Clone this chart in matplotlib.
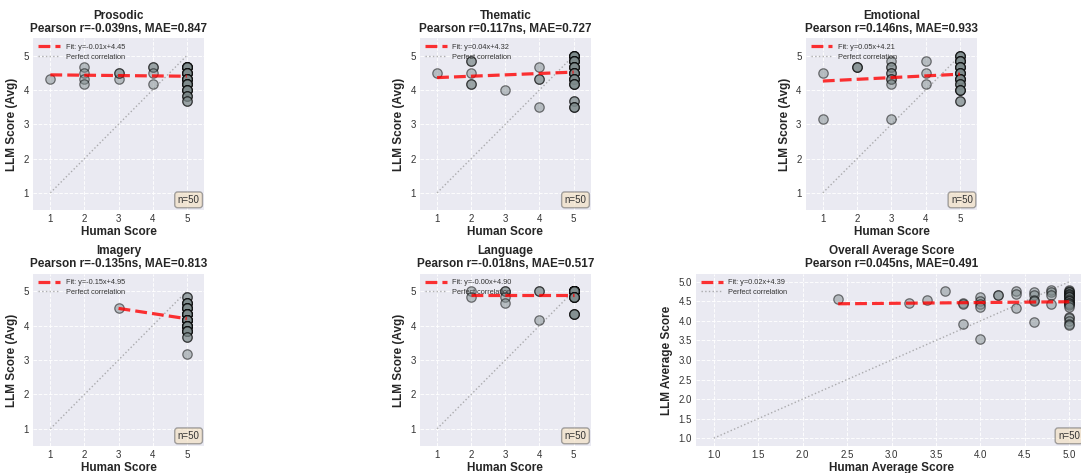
import numpy as np
import matplotlib
matplotlib.use("Agg")
import matplotlib.pyplot as plt

plt.rcParams['font.family'] = ['Liberation Sans', 'DejaVu Sans']

# ---------------- data ----------------
panel_names = ["Prosodic", "Thematic", "Emotional", "Imagery", "Language", "Overall Average Score"]
pearson_r = ["-0.039", "0.117", "0.146", "-0.135", "-0.018", "0.045"]
mae = ["0.847", "0.727", "0.933", "0.813", "0.517", "0.491"]
fit_slope = [-0.01, 0.04, 0.05, -0.15, -0.00, 0.02]
fit_intercept = [4.45, 4.32, 4.21, 4.95, 4.90, 4.39]
fit_labels = ["Fit: y=-0.01x+4.45", "Fit: y=0.04x+4.32", "Fit: y=0.05x+4.21",
              "Fit: y=-0.15x+4.95", "Fit: y=-0.00x+4.90", "Fit: y=0.02x+4.39"]
n_samples = [50, 50, 50, 50, 50, 50]

prosodic_human = [1] + [2]*4 + [3]*3 + [4]*4 + [5]*38
prosodic_llm = ([4.333] + [4.667, 4.5, 4.333, 4.167] + [4.5, 4.333, 4.5] + [4.667, 4.667, 4.5, 4.167]
                + [4.667]*8 + [4.5]*7 + [4.333]*7 + [4.167]*6 + [4.0]*5 + [3.833]*3 + [3.667]*2)

thematic_human = [1] + [2]*5 + [3] + [4]*4 + [5]*39
thematic_llm = ([4.5] + [4.833, 4.833, 4.5, 4.167, 4.167] + [4.0] + [4.667, 4.333, 4.333, 3.5]
                + [5.0]*7 + [4.833]*6 + [4.667]*6 + [4.5]*6 + [4.333]*5 + [4.167]*4 + [3.667]*2 + [3.5]*3)

emotional_human = [1]*2 + [2]*3 + [3]*9 + [4]*3 + [5]*33
emotional_llm = ([4.5, 3.167] + [4.667]*3
                 + [4.833, 4.667, 4.667, 4.5, 4.5, 4.333, 4.333, 4.167, 3.167]
                 + [4.833, 4.5, 4.167]
                 + [5.0]*4 + [4.833]*5 + [4.667]*5 + [4.5]*5 + [4.333]*5 + [4.167]*3 + [4.0]*4 + [3.667]*2)

imagery_human = [3] + [5]*49
imagery_llm = ([4.5] + [4.833]*2 + [4.667]*5 + [4.5]*6 + [4.333]*9 + [4.167]*9 + [4.0]*9
               + [3.833]*6 + [3.667]*2 + [3.167])

language_human = [2]*2 + [3]*4 + [4]*3 + [5]*41
language_llm = ([5.0, 4.833] + [5.0, 5.0, 4.833, 4.667] + [5.0, 5.0, 4.167]
                + [5.0]*30 + [4.833]*7 + [4.333]*4)

overall_human = ([2.4, 3.2, 3.4, 3.6] + [3.8]*3 + [4.0]*5 + [4.2]*2 + [4.4]*3 + [4.6]*5 + [4.8]*4 + [5.0]*24)
overall_llm = ([4.567, 4.467, 4.533, 4.767]
               + [4.467, 4.433, 3.933]
               + [4.6, 4.5, 4.433, 4.367, 3.533]
               + [4.667, 4.667]
               + [4.767, 4.7, 4.333]
               + [4.733, 4.667, 4.533, 4.5, 3.967]
               + [4.8, 4.733, 4.667, 4.433]
               + [4.8, 4.767, 4.733, 4.733, 4.7, 4.7, 4.667, 4.633, 4.6, 4.6, 4.567, 4.533,
                  4.5, 4.5, 4.467, 4.467, 4.433, 4.4, 4.367, 4.1, 4.067, 4.0, 3.933, 3.9])

humans = [prosodic_human, thematic_human, emotional_human, imagery_human, language_human, overall_human]
llms = [prosodic_llm, thematic_llm, emotional_llm, imagery_llm, language_llm, overall_llm]

# ---------------- layout ----------------
W, H = 1081, 473
fig = plt.figure(figsize=(W/100, H/100), dpi=100)

def rect(l, t, w, h):
    return [l/W, 1 - (t + h)/H, w/W, h/H]

rects = [rect(33.3, 38.5, 170.5, 171.5), rect(420, 38.5, 170.7, 171.5), rect(805.7, 38.5, 171.5, 171.5),
         rect(33.3, 274, 170.5, 172), rect(420, 274, 170.7, 172), rect(696, 274, 391, 172)]

bg = '#EAEAF2'
for i in range(6):
    ax = fig.add_axes(rects[i])
    ax.set_facecolor(bg)
    for s in ax.spines.values():
        s.set_visible(False)
    ax.grid(True, color='white', linestyle='--', linewidth=0.7, alpha=0.9)
    ax.set_axisbelow(True)
    x = np.array(humans[i], dtype=float)
    y = np.array(llms[i], dtype=float)
    ax.scatter(x, y, s=46, c='#7f8c8d', alpha=0.5, edgecolors='black', linewidths=0.9, zorder=3)
    xf = np.array([x.min(), x.max()])
    ax.plot(xf, fit_slope[i]*xf + fit_intercept[i], '--', color='red', lw=2.3, alpha=0.8,
            label=fit_labels[i], zorder=4)
    ax.plot([1, 5], [1, 5], ':', color='gray', lw=1, alpha=0.6, label='Perfect correlation', zorder=2)
    ax.set_title(f"{panel_names[i]}\nPearson r={pearson_r[i]}ns, MAE={mae[i]}",
                 fontsize=8.5, fontweight='bold', color='#262626', pad=5, linespacing=1.1)
    ax.tick_params(length=0, labelsize=7, colors='#333333', pad=3)
    if i < 5:
        ax.set_xlim(0.5, 5.5)
        ax.set_ylim(0.5, 5.5)
        ax.set_xticks([1, 2, 3, 4, 5])
        ax.set_yticks([1, 2, 3, 4, 5])
        ax.set_xlabel("Human Score", fontsize=8.5, fontweight='bold', color='#262626', labelpad=1.5)
        ax.set_ylabel("LLM Score (Avg)", fontsize=8.5, fontweight='bold', color='#262626', labelpad=4)
    else:
        ax.set_xlim(0.8, 5.2)
        ax.set_ylim(0.8, 5.2)
        ticks = np.arange(1.0, 5.01, 0.5)
        ax.set_xticks(ticks)
        ax.set_yticks(ticks)
        ax.set_xticklabels([f"{t:.1f}" for t in ticks])
        ax.set_yticklabels([f"{t:.1f}" for t in ticks])
        ax.set_xlabel("Human Average Score", fontsize=8.5, fontweight='bold', color='#262626', labelpad=1.5)
        ax.set_ylabel("LLM Average Score", fontsize=8.5, fontweight='bold', color='#262626', labelpad=4)
    ax.legend(loc='upper left', fontsize=5.3, frameon=False, handlelength=2.9,
              borderaxespad=0.3, labelspacing=0.35, labelcolor='#333333')
    ax.text(0.975 if i < 5 else 0.982, 0.03, f"n={n_samples[i]}", transform=ax.transAxes,
            ha='right', va='bottom', fontsize=7, color='#333333',
            bbox=dict(boxstyle='round,pad=0.3', facecolor='wheat', edgecolor='#555555', alpha=0.5, lw=1))

fig.savefig("out.png", dpi=100)
